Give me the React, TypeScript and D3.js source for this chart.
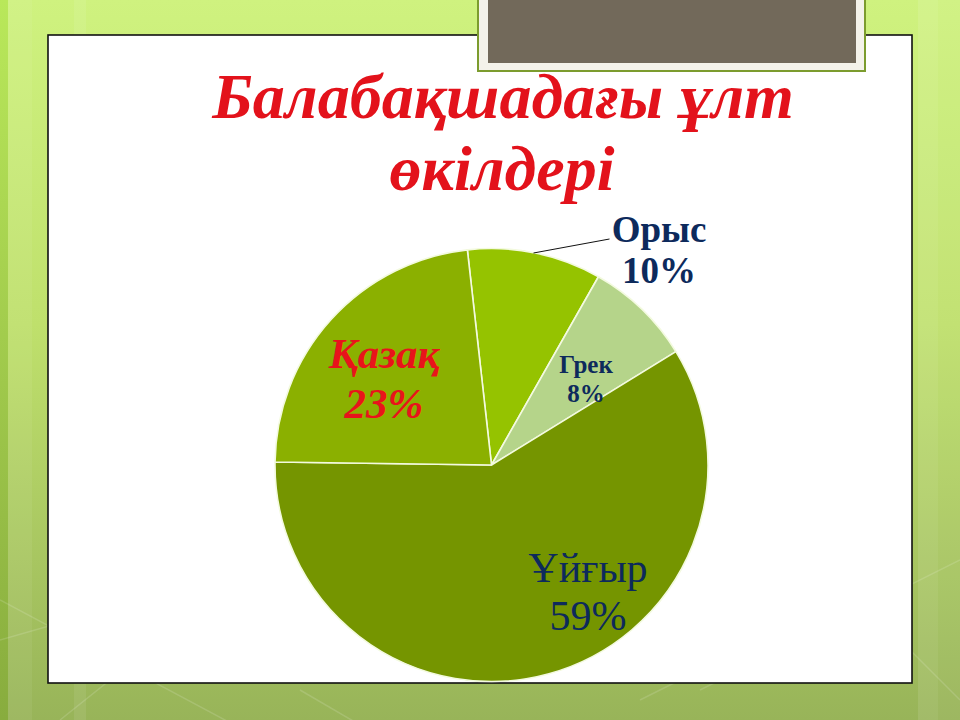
import React from "react";
import * as d3 from "d3";

const categories = ["Орыс", "Грек", "Ұйғыр", "Қазақ"];
const values = [10, 8, 59, 23];
const sliceColors = ["#95c300", "#b5d48a", "#759500", "#8bb000"];
const labelColors = ["#0d2a5c", "#0d2a5c", "#0d2a5c", "#e8141b"];
const titleLines = ["Балабақшадағы ұлт", "өкілдері"];

// layout (label anchor offsets relative to pie centre, font settings)
const W = 960, H = 720;
const CX = 491.5, CY = 465, R = 216.5;
const labelLayout = [
  { dx: 167.5, dy: -223, lh: 41, size: 37, weight: "bold", style: "normal" },
  { dx: 94.5, dy: -92, lh: 29, size: 25, weight: "bold", style: "normal" },
  { dx: 96.5, dy: 117, lh: 48, size: 42, weight: "normal", style: "normal" },
  { dx: -107.5, dy: -97, lh: 50, size: 43, weight: "bold", style: "italic" },
];

export default function App() {
  const data = categories.map((c, i) => ({ c, v: values[i], i }));
  const total = d3.sum(values);
  const pie = d3
    .pie<any>()
    .sort(null)
    .value((d) => d.v)
    .startAngle((-6.4 * Math.PI) / 180)
    .endAngle((-6.4 * Math.PI) / 180 + 2 * Math.PI);
  const arcs = pie(data);
  const arc = d3.arc<any>().innerRadius(0).outerRadius(R);
  const fmt = d3.format(".0%");

  const bgLines = [
    [0, 600, 300, 760],
    [60, 720, 260, 560],
    [300, 690, 420, 760],
    [640, 700, 760, 640],
    [700, 690, 960, 560],
    [0, 640, 140, 600],
    [880, 620, 960, 700],
  ];

  return (
    <svg
      width={W}
      height={H}
      style={{ position: "absolute", left: 0, top: 0 }}
      fontFamily="'Liberation Serif', 'Times New Roman', serif"
    >
      <defs>
        <linearGradient id="bg" x1="0" y1="0" x2="0" y2="1">
          <stop offset="0" stopColor="#cff27f" />
          <stop offset="0.45" stopColor="#bfe06c" />
          <stop offset="1" stopColor="#98b459" />
        </linearGradient>
        <linearGradient id="leftStrip" x1="0" y1="0" x2="0" y2="1">
          <stop offset="0" stopColor="#b9e85a" />
          <stop offset="1" stopColor="#88ac3e" />
        </linearGradient>
      </defs>
      <rect x={0} y={0} width={W} height={H} fill="url(#bg)" />
      <rect x={0} y={0} width={8} height={H} fill="url(#leftStrip)" />
      <rect x={8} y={0} width={24} height={H} fill="#ffffff" opacity={0.06} />
      <rect x={74} y={0} width={12} height={H} fill="#ffffff" opacity={0.08} />
      <rect x={918} y={0} width={20} height={H} fill="#ffffff" opacity={0.1} />
      <rect x={938} y={0} width={22} height={H} fill="#ffffff" opacity={0.05} />
      {bgLines.map((l, i) => (
        <line
          key={i}
          x1={l[0]}
          y1={l[1]}
          x2={l[2]}
          y2={l[3]}
          stroke="#ffffff"
          strokeOpacity={0.14}
          strokeWidth={1.5}
        />
      ))}

      <rect x={48} y={35} width={864} height={648} fill="#ffffff" stroke="#111111" strokeWidth={1.6} />

      <rect x={478} y={-4} width={387} height={75} fill="#f4f2ea" stroke="#7c9c2e" strokeWidth={2} />
      <rect x={488} y={-4} width={368} height={67} fill="#72695a" />

      <text textAnchor="middle" fill="#e3121b" fontWeight="bold" fontStyle="italic" fontSize={64}>
        <tspan x={503} y={118}>{titleLines[0]}</tspan>
        <tspan x={502} y={190}>{titleLines[1]}</tspan>
      </text>

      <g transform={`translate(${CX},${CY})`}>
        {arcs.map((a, i) => (
          <path key={i} d={arc(a) as string} fill={sliceColors[i]} stroke="#f3fadf" strokeWidth={1.6} strokeLinejoin="round" />
        ))}
        <line x1={42} y1={-212} x2={118} y2={-226} stroke="#111" strokeWidth={1} />
        {arcs.map((a, i) => {
          const L = labelLayout[i];
          return (
            <text
              key={"l" + i}
              textAnchor="middle"
              fill={labelColors[i]}
              fontSize={L.size}
              fontWeight={L.weight}
              fontStyle={L.style}
            >
              <tspan x={L.dx} y={L.dy}>{a.data.c}</tspan>
              <tspan x={L.dx} y={L.dy + L.lh}>{fmt(a.data.v / total)}</tspan>
            </text>
          );
        })}
      </g>
    </svg>
  );
}
